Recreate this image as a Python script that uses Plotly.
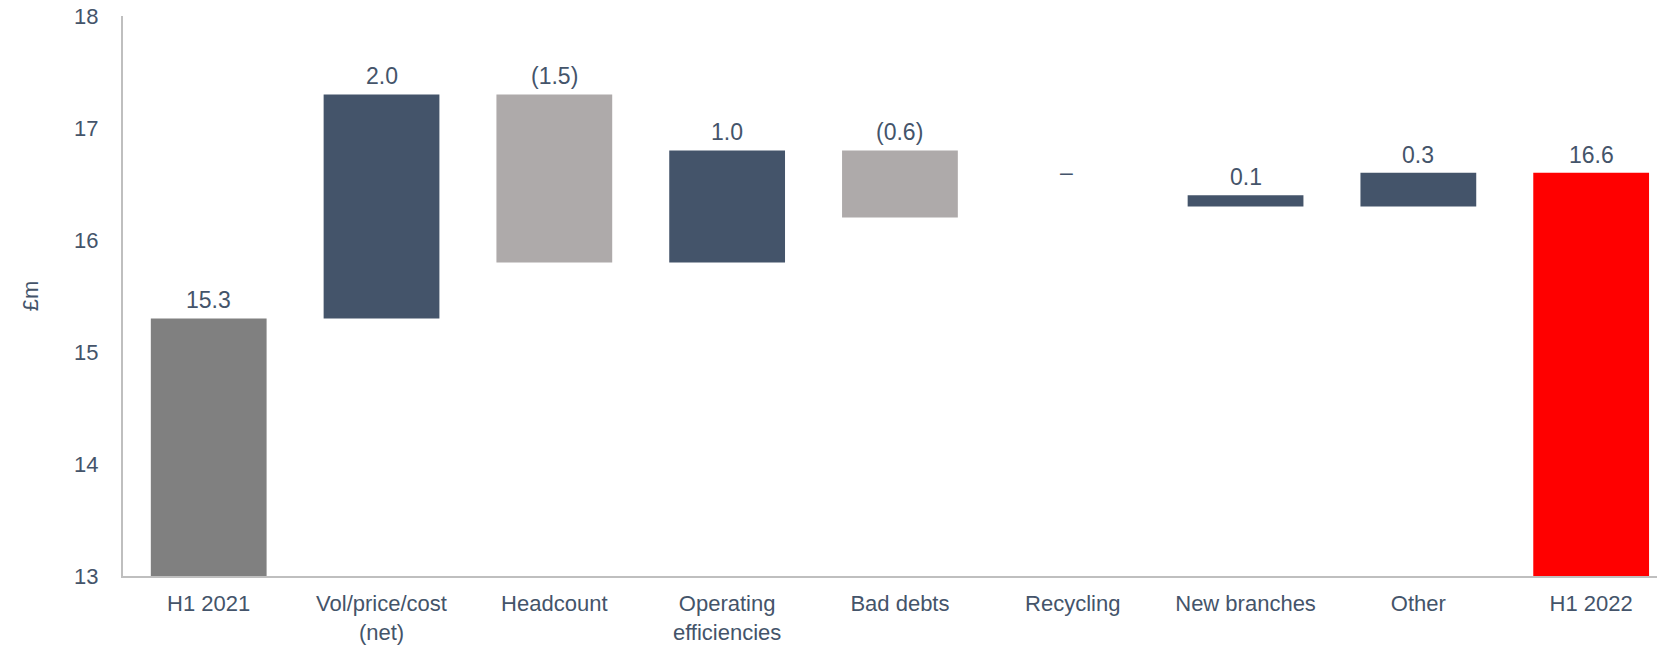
import plotly.graph_objects as go

categories = ["H1 2021", "Vol/price/cost<br>(net)", "Headcount", "Operating<br>efficiencies",
              "Bad debts", "Recycling", "New branches", "Other", "H1 2022"]
bar_bottom = [13.0, 15.3, 15.8, 15.8, 16.2, 16.45, 16.3, 16.3, 13.0]
bar_top = [15.3, 17.3, 17.3, 16.8, 16.8, 16.45, 16.4, 16.6, 16.6]
labels = ["15.3", "2.0", "(1.5)", "1.0", "(0.6)", "–", "0.1", "0.3", "16.6"]
colors = ["#808080", "#44546A", "#AEAAAA", "#44546A", "#AEAAAA", "#44546A", "#44546A", "#44546A", "#FF0000"]

y_ticks = [13, 14, 15, 16, 17, 18]

TEXT = "#44546A"
FONT = "Liberation Sans, Arial, sans-serif"

fig = go.Figure()
fig.add_trace(go.Bar(
    x=categories,
    y=[t - b for t, b in zip(bar_top, bar_bottom)],
    base=bar_bottom,
    marker=dict(color=colors, line=dict(width=0)),
    hoverinfo="skip",
))

for c, t, lab in zip(categories, bar_top, labels):
    fig.add_annotation(x=c, y=t, text=lab, showarrow=False, yanchor="middle",
                       yshift=18, xshift=-6 if lab == "–" else 0,
                       font=dict(family=FONT, size=23, color=TEXT))

fig.update_layout(
    width=1657, height=646,
    margin=dict(l=123, r=0, t=16, b=70),
    paper_bgcolor="white", plot_bgcolor="white",
    bargap=0.33,
    showlegend=False,
    font=dict(family=FONT, size=22, color=TEXT),
)
fig.update_xaxes(range=[-0.496, 8.381], showline=True, linecolor="#BFBFBF", linewidth=2, showgrid=False,
                 ticks="outside", ticklen=7, tickcolor="rgba(0,0,0,0)",
                 tickfont=dict(family=FONT, size=22, color=TEXT))
fig.update_yaxes(range=[13, 18], tickvals=y_ticks, showline=True, linecolor="#BFBFBF", linewidth=2,
                 showgrid=False, zeroline=False, ticks="outside", ticklen=18, tickcolor="rgba(0,0,0,0)",
                 tickfont=dict(family=FONT, size=22, color=TEXT),
                 title=dict(text="£m", font=dict(family=FONT, size=22, color=TEXT), standoff=29))

fig.write_html("out.html", config={"displayModeBar": False},
               post_script="document.body.style.margin='0px';document.body.style.overflow='hidden';")
